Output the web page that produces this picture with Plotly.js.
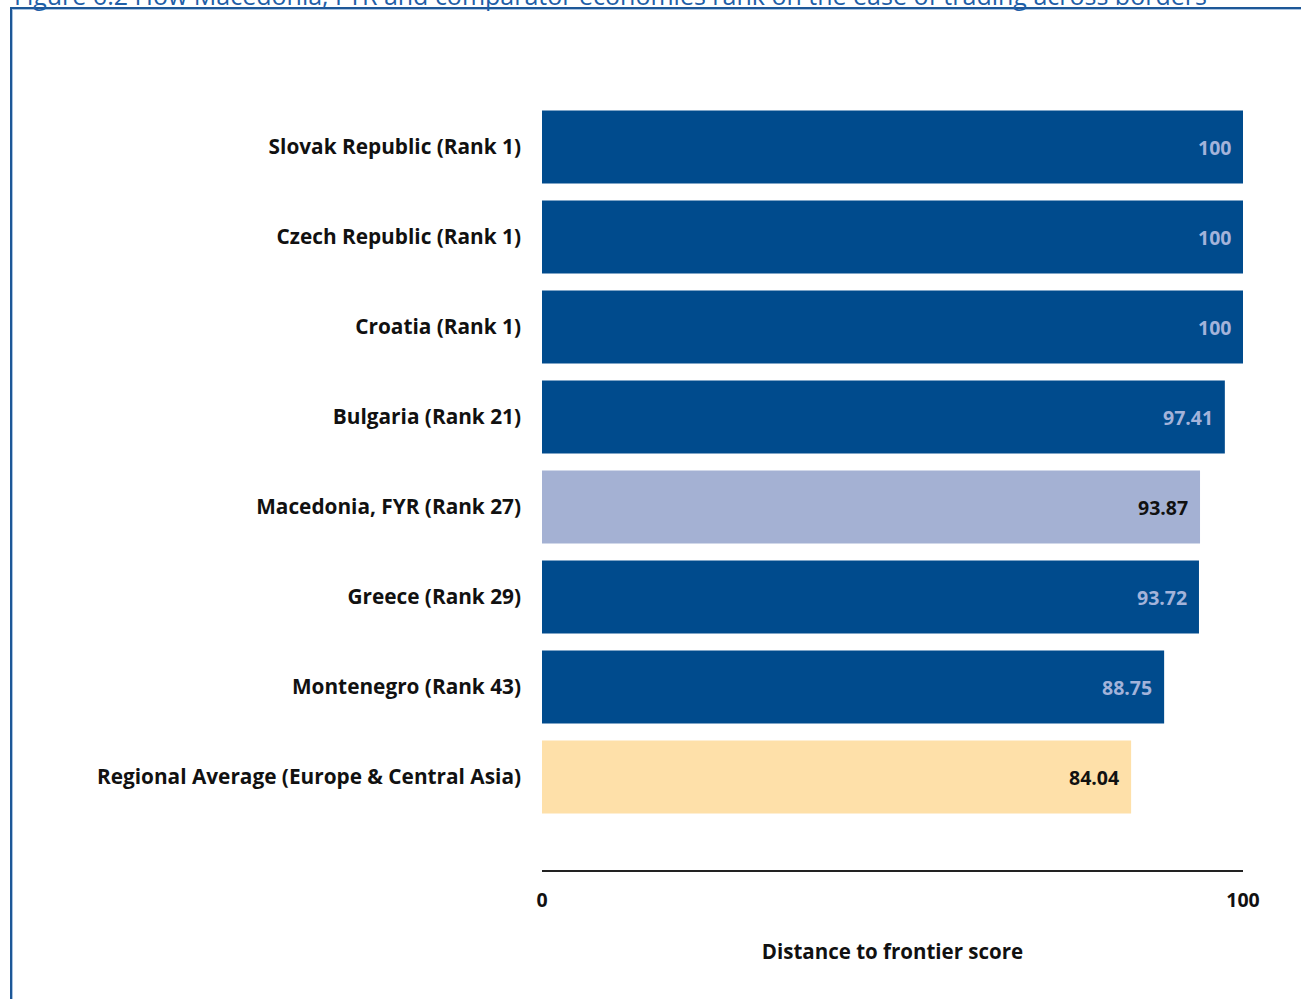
<!DOCTYPE html>
<html>
<head>
<meta charset="utf-8">
<script src="https://cdn.plot.ly/plotly-3.0.1.min.js"></script>
<style>
  html, body { margin: 0; padding: 0; background: #fff; }
  #wrap { position: relative; width: 1301px; height: 999px; overflow: hidden; }
  #frame { position: absolute; left: 10px; top: 7px; width: 1400px; height: 1100px;
           border-left: 2px solid #1d5797; border-top: 2px solid #1d5797;
           box-shadow: inset 1px 1px 0 #a9c3e0; box-sizing: border-box; }
  #chart { position: absolute; left: 0; top: 0; width: 1301px; height: 999px; }
</style>
</head>
<body>
<div id="wrap">
  <div id="frame"></div>
  <div id="chart"></div>
</div>
<script>
const categories = [
  "Slovak Republic (Rank 1)",
  "Czech Republic (Rank 1)",
  "Croatia (Rank 1)",
  "Bulgaria (Rank 21)",
  "Macedonia, FYR (Rank 27)",
  "Greece (Rank 29)",
  "Montenegro (Rank 43)",
  "Regional Average (Europe & Central Asia)"
];
const scores = [100, 100, 100, 97.41, 93.87, 93.72, 88.75, 84.04];
const scoreLabels = ["100", "100", "100", "97.41", "93.87", "93.72", "88.75", "84.04"];
const barColors = ["#004b8d", "#004b8d", "#004b8d", "#004b8d", "#a4b1d3", "#004b8d", "#004b8d", "#fee0a9"];
const labelColors = ["#a3b3da", "#a3b3da", "#a3b3da", "#a3b3da", "#111111", "#a3b3da", "#a3b3da", "#111111"];
const xTickVals = [0, 100];
const xTickText = ["0", "100"];
const xTitle = "Distance to frontier score";
const figTitle = "Figure 6.2 How Macedonia, FYR and comparator economies rank on the ease of trading across borders";

const FONT = "'Open Sans', 'Noto Sans', sans-serif";
const LBL = 20.8;

const trace = {
  type: "bar",
  orientation: "h",
  y: categories,
  x: scores,
  marker: { color: barColors, line: { width: 0 } },
  hoverinfo: "none",
  cliponaxis: false
};

const annotations = categories.map((c, i) => ({
  x: scores[i], y: c, xref: "x", yref: "y",
  text: scoreLabels[i], showarrow: false,
  xanchor: "right", yanchor: "middle", xshift: -10,
  font: { family: FONT, size: 19.5, color: labelColors[i], weight: "bold" }
}));
annotations.push({
  x: (12 - 542) / 701, y: 1, xref: "paper", yref: "paper",
  xanchor: "left", yanchor: "middle", yshift: 107,
  text: figTitle, showarrow: false,
  font: { family: FONT, size: 25, color: "#1f5fa8" }
});

const layout = {
  width: 1301, height: 999,
  paper_bgcolor: "rgba(0,0,0,0)",
  plot_bgcolor: "rgba(0,0,0,0)",
  margin: { l: 542, r: 58, t: 102, b: 129 },
  showlegend: false,
  bargap: 0.19,
  font: { family: FONT, color: "#111" },
  xaxis: {
    range: [0, 100],
    tickvals: xTickVals, ticktext: xTickText,
    showgrid: false, zeroline: false,
    showline: true, linecolor: "#222", linewidth: 2,
    ticks: "outside", ticklen: 12, tickcolor: "rgba(0,0,0,0)",
    tickfont: { family: FONT, size: 19.5, color: "#111", weight: "bold" },
    title: { text: xTitle, standoff: 32, font: { family: FONT, size: 20.5, color: "#111", weight: "bold" } },
    fixedrange: true
  },
  yaxis: {
    type: "category",
    range: [8.033, -0.5],
    showgrid: false, zeroline: false, showline: false,
    ticks: "", ticklabelstandoff: 20,
    tickfont: { family: FONT, size: LBL, color: "#111", weight: "bold" },
    fixedrange: true
  },
  annotations: annotations
};

Plotly.newPlot("chart", [trace], layout, { displayModeBar: false, staticPlot: true });
</script>
</body>
</html>
